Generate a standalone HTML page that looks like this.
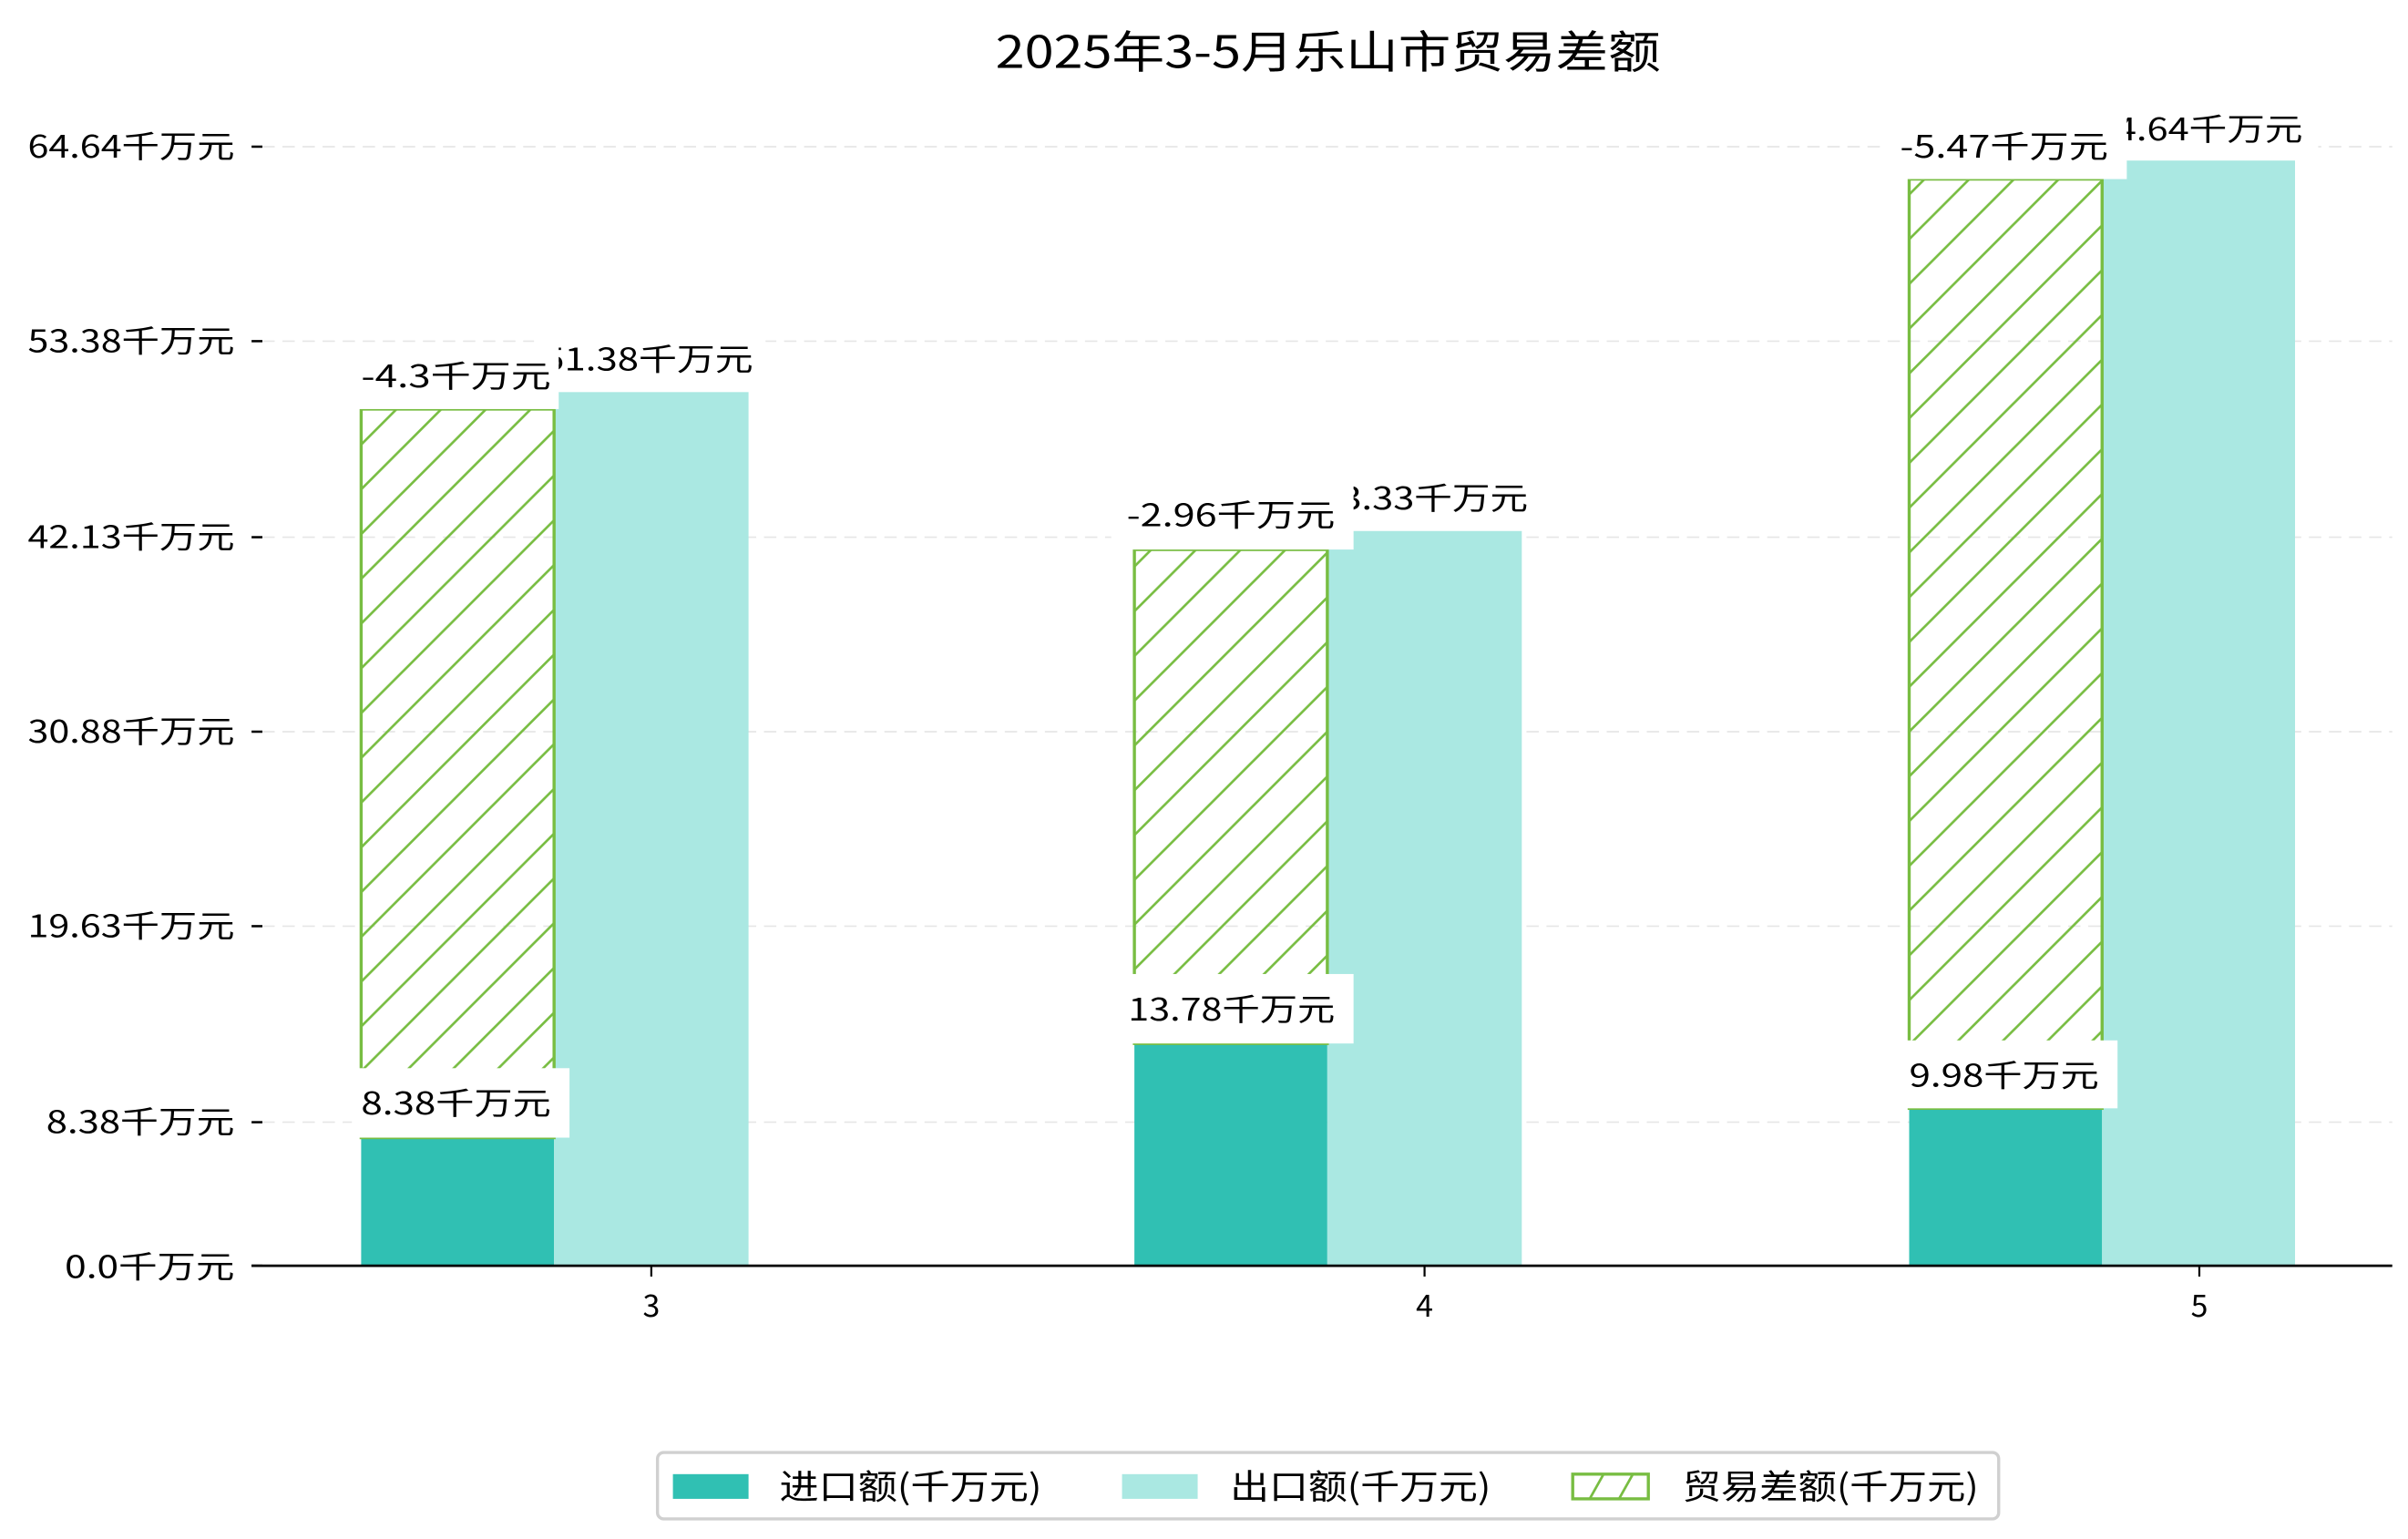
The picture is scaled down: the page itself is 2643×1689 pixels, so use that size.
<!DOCTYPE html>
<html><head><meta charset="utf-8"><style>html,body{margin:0;padding:0;background:#fff;}svg{display:block}</style></head>
<body>
<svg width="2643" height="1689" viewBox="0 0 1560.2 997" xmlns="http://www.w3.org/2000/svg" font-family="'Noto Sans CJK SC','Liberation Sans',sans-serif">
<defs>
<pattern id="h" patternUnits="userSpaceOnUse" width="29" height="29">
<path d="M-2,31 L31,-2 M-10,10 L10,-10 M19,39 L39,19" stroke="#78bd42" stroke-width="1.6"/>
</pattern>
</defs>
<rect width="1560.2" height="997" fill="#fff"/>
<text x="645" y="44" font-size="29" textLength="431" lengthAdjust="spacingAndGlyphs" fill="#000">2025年3-5月乐山市贸易差额</text>
<g stroke="#e6e6e6" stroke-width="1" stroke-dasharray="8,5">
<line x1="170" y1="95" x2="1550" y2="95"/><line x1="170" y1="221" x2="1550" y2="221"/>
<line x1="170" y1="348" x2="1550" y2="348"/><line x1="170" y1="474" x2="1550" y2="474"/>
<line x1="170" y1="600" x2="1550" y2="600"/><line x1="170" y1="727" x2="1550" y2="727"/>
</g>
<g stroke="#000" stroke-width="1.5">
<line x1="163" y1="95" x2="170" y2="95"/><line x1="163" y1="221" x2="170" y2="221"/>
<line x1="163" y1="348" x2="170" y2="348"/><line x1="163" y1="474" x2="170" y2="474"/>
<line x1="163" y1="600" x2="170" y2="600"/><line x1="163" y1="727" x2="170" y2="727"/>
<line x1="163" y1="820" x2="170" y2="820"/>
</g>
<g font-size="20" fill="#000" lengthAdjust="spacingAndGlyphs">
<text x="18" y="102" textLength="134" lengthAdjust="spacingAndGlyphs">64.64千万元</text>
<text x="18" y="228" textLength="134" lengthAdjust="spacingAndGlyphs">53.38千万元</text>
<text x="18" y="355" textLength="134" lengthAdjust="spacingAndGlyphs">42.13千万元</text>
<text x="18" y="481" textLength="134" lengthAdjust="spacingAndGlyphs">30.88千万元</text>
<text x="18" y="607" textLength="134" lengthAdjust="spacingAndGlyphs">19.63千万元</text>
<text x="30" y="734" textLength="122" lengthAdjust="spacingAndGlyphs">8.38千万元</text>
<text x="42" y="828" textLength="110" lengthAdjust="spacingAndGlyphs">0.0千万元</text>
</g>
<g>
<rect x="234" y="737" width="125" height="83" fill="#30c0b3"/>
<rect x="359" y="254" width="126" height="566" fill="#aae8e2"/>
<rect x="234" y="265" width="125" height="472" fill="url(#h)" stroke="#78bd42" stroke-width="2"/>
<rect x="735" y="676" width="125" height="144" fill="#30c0b3"/>
<rect x="860" y="344" width="126" height="476" fill="#aae8e2"/>
<rect x="735" y="356" width="125" height="320" fill="url(#h)" stroke="#78bd42" stroke-width="2"/>
<rect x="1237" y="718" width="125" height="102" fill="#30c0b3"/>
<rect x="1362" y="104" width="125" height="716" fill="#aae8e2"/>
<rect x="1237" y="116" width="125" height="602" fill="url(#h)" stroke="#78bd42" stroke-width="2"/>
</g>
<g font-size="20" fill="#000">
<rect x="346" y="212" width="150" height="41" fill="#fff"/><text x="352" y="240" textLength="136" lengthAdjust="spacingAndGlyphs">51.38千万元</text>
<rect x="228" y="222" width="134" height="43" fill="#fff"/><text x="234" y="251" textLength="123" lengthAdjust="spacingAndGlyphs">-4.3千万元</text>
<rect x="228" y="692" width="141" height="45" fill="#fff"/><text x="234" y="722" textLength="123" lengthAdjust="spacingAndGlyphs">8.38千万元</text>
<rect x="848" y="302" width="150" height="41" fill="#fff"/><text x="855" y="330" textLength="135" lengthAdjust="spacingAndGlyphs">43.33千万元</text>
<rect x="720" y="312" width="157" height="44" fill="#fff"/><text x="730" y="341" textLength="135" lengthAdjust="spacingAndGlyphs">-2.96千万元</text>
<rect x="720" y="631" width="157" height="45" fill="#fff"/><text x="731" y="661" textLength="134" lengthAdjust="spacingAndGlyphs">13.78千万元</text>
<rect x="1350" y="63" width="152" height="40" fill="#fff"/><text x="1357" y="91" textLength="135" lengthAdjust="spacingAndGlyphs">64.64千万元</text>
<rect x="1222" y="73" width="156" height="43" fill="#fff"/><text x="1231" y="102" textLength="135" lengthAdjust="spacingAndGlyphs">-5.47千万元</text>
<rect x="1222" y="674" width="150" height="44" fill="#fff"/><text x="1237" y="704" textLength="123" lengthAdjust="spacingAndGlyphs">9.98千万元</text>
</g>
<line x1="163" y1="820" x2="1550" y2="820" stroke="#000" stroke-width="1.6"/>
<g stroke="#000" stroke-width="1.3"><line x1="422" y1="820" x2="422" y2="827"/><line x1="923" y1="820" x2="923" y2="827"/><line x1="1425" y1="820" x2="1425" y2="827"/></g>
<g font-size="20" text-anchor="middle"><text x="422" y="853">3</text><text x="923" y="853">4</text><text x="1425" y="853">5</text></g>
<rect x="426" y="941" width="869" height="43" rx="4" fill="#fff" stroke="#d0d0d0" stroke-width="2"/>
<rect x="436" y="955" width="49" height="16" fill="#30c0b3"/>
<text x="505" y="971" font-size="22" textLength="170" lengthAdjust="spacingAndGlyphs">进口额(千万元)</text>
<rect x="727" y="955" width="49" height="16" fill="#aae8e2"/>
<text x="797" y="971" font-size="22" textLength="169" lengthAdjust="spacingAndGlyphs">出口额(千万元)</text>
<rect x="1019" y="955" width="49" height="16" fill="#fff" stroke="#78bd42" stroke-width="2"/>
<path d="M1030,971 L1039,955 M1049,971 L1058,955" stroke="#78bd42" stroke-width="1.6"/>
<text x="1090" y="971" font-size="22" textLength="192" lengthAdjust="spacingAndGlyphs">贸易差额(千万元)</text>
</svg>
</body></html>
